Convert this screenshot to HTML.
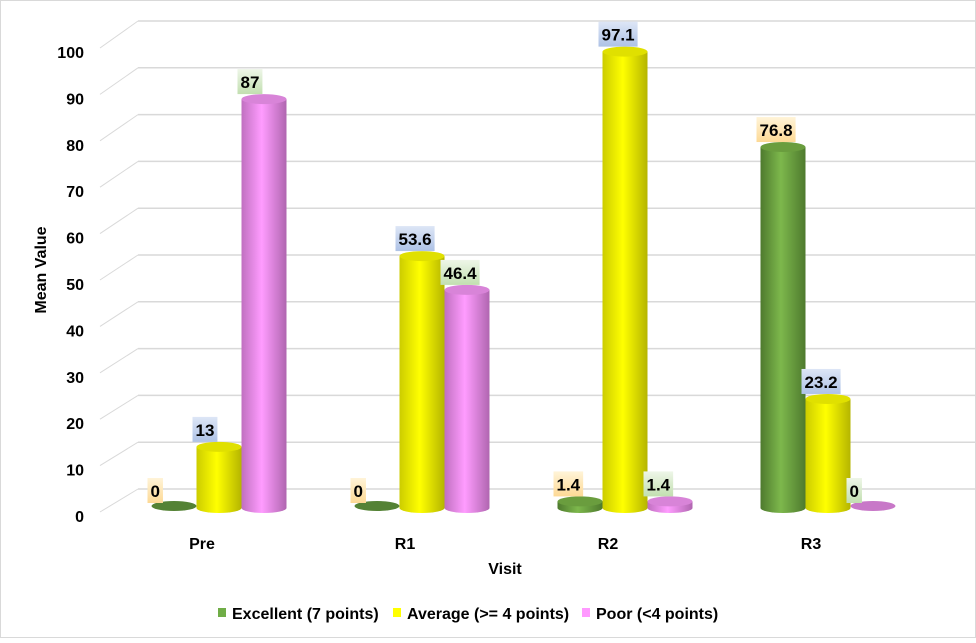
<!DOCTYPE html>
<html><head><meta charset="utf-8">
<style>
html,body{margin:0;padding:0;background:#fff;}
#wrap{position:relative;width:976px;height:638px;}
svg text{font-family:"Liberation Sans",sans-serif;font-weight:bold;}
</style></head>
<body>
<div id="wrap">
<svg id="chart" width="976" height="638">
<defs>
<linearGradient id="gG" x1="0" x2="1"><stop offset="0" stop-color="#4e7a2e"/><stop offset="0.45" stop-color="#7db84c"/><stop offset="1" stop-color="#4e7a2e"/></linearGradient>
<linearGradient id="gY" x1="0" x2="1"><stop offset="0" stop-color="#cccc00"/><stop offset="0.45" stop-color="#ffff00"/><stop offset="1" stop-color="#b5b500"/></linearGradient>
<linearGradient id="gP" x1="0" x2="1"><stop offset="0" stop-color="#c070c0"/><stop offset="0.45" stop-color="#ff9cff"/><stop offset="1" stop-color="#b066b0"/></linearGradient>
<linearGradient id="lG" x1="0" y1="0" x2="0" y2="1"><stop offset="0" stop-color="#fff4d8"/><stop offset="1" stop-color="#fdd995"/></linearGradient>
<linearGradient id="lY" x1="0" y1="0" x2="0" y2="1"><stop offset="0" stop-color="#dde6f6"/><stop offset="1" stop-color="#aec2e6"/></linearGradient>
<linearGradient id="lP" x1="0" y1="0" x2="0" y2="1"><stop offset="0" stop-color="#eef6e8"/><stop offset="1" stop-color="#c2dfb0"/></linearGradient>
</defs>
<rect x="0.5" y="0.5" width="975" height="637" fill="#fff" stroke="#d9d9d9"/>
<g id="grid"></g>
<g id="bars"></g>
<g id="labels"></g>
<text x="46" y="270" font-size="16" text-anchor="middle" transform="rotate(-90 46 270)">Mean Value</text>
<text x="505" y="574" font-size="16" text-anchor="middle">Visit</text>
<g>
<rect x="218" y="608" width="8" height="9" fill="#70ad47"/>
<text x="232" y="619" font-size="16">Excellent (7 points)</text>
<rect x="393" y="608" width="8" height="9" fill="#ffff00"/>
<text x="407" y="619" font-size="16">Average (&gt;= 4 points)</text>
<rect x="582" y="608" width="8" height="9" fill="#ff99ff"/>
<text x="596" y="619" font-size="16">Poor (&lt;4 points)</text>
</g>
</svg>
</div>
<script>
const categories = ["Pre","R1","R2","R3"];
const excellent = [0,0,1.4,76.8];
const average = [13,53.6,97.1,23.2];
const poor = [87,46.4,1.4,0];
const yTicks = [0,10,20,30,40,50,60,70,80,90,100];

const NS="http://www.w3.org/2000/svg";
function mk(tag,attrs,parent){const e=document.createElementNS(NS,tag);for(const k in attrs)e.setAttribute(k,attrs[k]);parent.appendChild(e);return e;}
const baseY=508, unit=4.7;
function yBar(v){return baseY-v*unit;}
function yBack(v){return 489-v*4.68;}
function yFront(v){return 516-v*4.64;}
function xCat(i){return 219+i*203;}

const grid=document.getElementById('grid');
yTicks.forEach(t=>{
  const l=mk('line',{x1:138,y1:yBack(t),x2:976,y2:yBack(t),stroke:'#d9d9d9','stroke-width':1.5},grid);
  
  
  const d=mk('line',{x1:100,y1:yFront(t)-4,x2:138,y2:yBack(t),stroke:'#d9d9d9','stroke-width':1},grid);
  
  
  const tx=mk('text',{x:84,y:yFront(t)+6,'font-size':16,'text-anchor':'end'},grid);
  tx.textContent=t;
  
  
});
categories.forEach((c,i)=>{
  const tx=mk('text',{x:xCat(i)-17,y:549,'font-size':16,'text-anchor':'middle'},grid);
  tx.textContent=c;
  
  
});

const series=[
 {vals:excellent,off:-45,fill:'url(#gG)',top:'#6a9d3e',topFlat:'#548235',lab:'url(#lG)',name:'excellent'},
 {vals:average,off:0,fill:'url(#gY)',top:'#e0e000',topFlat:'#e0e000',lab:'url(#lY)',name:'average'},
 {vals:poor,off:45,fill:'url(#gP)',top:'#d884d8',topFlat:'#c878c8',lab:'url(#lP)',name:'poor'}
];
const bars=document.getElementById('bars'), labels=document.getElementById('labels');
const r=22.5, ry=5;
series.forEach(s=>{
  s.vals.forEach((v,i)=>{
    const cx=xCat(i)+s.off, yt=yBar(v);
    const g=mk('g',{},bars);
    
    
    if(v>0){
      mk('path',{d:`M${cx-r},${yt} L${cx-r},${baseY} A${r},${ry} 0 0 0 ${cx+r},${baseY} L${cx+r},${yt} Z`,fill:s.fill},g);
      mk('ellipse',{cx:cx,cy:yt,rx:r,ry:ry,fill:s.top},g);
    } else {
      mk('ellipse',{cx:cx,cy:baseY-2,rx:r,ry:ry,fill:s.topFlat},g);
    }
    const txt=String(v);
    const lb=mk('g',{},labels);
    
    
    const rect=mk('rect',{x:0,y:0,width:10,height:25,fill:s.lab},lb);
    const lx=cx-r-4, ly=yt-ry-25;
    const t=mk('text',{x:0,y:ly+19,'font-size':17,'text-anchor':'middle'},lb);
    t.textContent=txt;
    let tw=txt.length*9.5;
    try{tw=t.getComputedTextLength();}catch(e){}
    const w=tw+6;
    rect.setAttribute('x',lx);rect.setAttribute('y',ly);rect.setAttribute('width',w);
    t.setAttribute('x',lx+w/2);
  });
});
</script>
</body></html>
